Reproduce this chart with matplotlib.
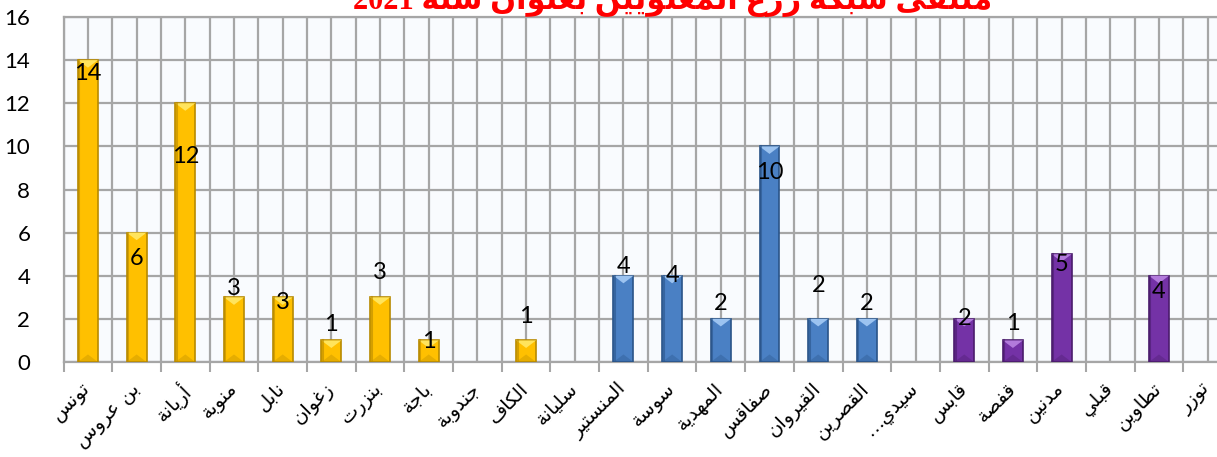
import re
import matplotlib.pyplot as plt
import matplotlib.transforms as mtransforms
from matplotlib.patches import Polygon
import numpy as np

# governorates and values
governorates = ["تونس", "بن عروس", "أريانة", "منوبة", "نابل", "زغوان", "بنزرت", "باجة",
                "جندوبة", "الكاف", "سليانة", "المنستير", "سوسة", "المهدية", "صفاقس",
                "القيروان", "القصرين", "سيدي…", "قابس", "قفصة", "مدنين", "قبلي", "تطاوين", "توزر"]
values = [14, 6, 12, 3, 3, 1, 3, 1, 0, 1, 0, 4, 4, 2, 10, 2, 2, 0, 2, 1, 5, 0, 4, 0]
region = ["north"] * 11 + ["centre"] * 7 + ["south"] * 6
title = "ملتقى شبكة زرع المعنويين بعنوان سنة 2021"

# label placement relative to bar top (data units)
label_dy = [-0.6, -1.2, -2.45, 0.43, -0.26, 0.72, 1.13, -0.07, 0, 1.09, 0, 0.41, 0.0,
            0.69, -1.2, 1.57, 0.69, 0, 0.04, 0.8, -0.5, 0, -0.75, 0]

colors = {"north": ("#FFC000", "#B88A00", "#FFE45C"),
          "centre": ("#4A80C4", "#2A5488", "#9CC3F0"),
          "south": ("#7432A6", "#4A1C6C", "#B27BDB")}

# --- minimal arabic shaping (matplotlib has no RTL support) ---
FORMS = {
    'ا': (0xFE8D, 0xFE8E, None, None), 'أ': (0xFE83, 0xFE84, None, None),
    'ب': (0xFE8F, 0xFE90, 0xFE91, 0xFE92), 'ة': (0xFE93, 0xFE94, None, None),
    'ت': (0xFE95, 0xFE96, 0xFE97, 0xFE98), 'ج': (0xFE9D, 0xFE9E, 0xFE9F, 0xFEA0),
    'د': (0xFEA9, 0xFEAA, None, None), 'ر': (0xFEAD, 0xFEAE, None, None),
    'ز': (0xFEAF, 0xFEB0, None, None), 'س': (0xFEB1, 0xFEB2, 0xFEB3, 0xFEB4),
    'ش': (0xFEB5, 0xFEB6, 0xFEB7, 0xFEB8), 'ص': (0xFEB9, 0xFEBA, 0xFEBB, 0xFEBC),
    'ط': (0xFEC1, 0xFEC2, 0xFEC3, 0xFEC4), 'ع': (0xFEC9, 0xFECA, 0xFECB, 0xFECC),
    'غ': (0xFECD, 0xFECE, 0xFECF, 0xFED0), 'ف': (0xFED1, 0xFED2, 0xFED3, 0xFED4),
    'ق': (0xFED5, 0xFED6, 0xFED7, 0xFED8), 'ك': (0xFED9, 0xFEDA, 0xFEDB, 0xFEDC),
    'ل': (0xFEDD, 0xFEDE, 0xFEDF, 0xFEE0), 'م': (0xFEE1, 0xFEE2, 0xFEE3, 0xFEE4),
    'ن': (0xFEE5, 0xFEE6, 0xFEE7, 0xFEE8), 'ه': (0xFEE9, 0xFEEA, 0xFEEB, 0xFEEC),
    'و': (0xFEED, 0xFEEE, None, None), 'ى': (0xFEEF, 0xFEF0, None, None),
    'ي': (0xFEF1, 0xFEF2, 0xFEF3, 0xFEF4),
}


def shape(s):
    out = []
    for i, ch in enumerate(s):
        if ch not in FORMS:
            out.append(ch)
            continue
        prev = s[i - 1] if i > 0 else ""
        nxt = s[i + 1] if i < len(s) - 1 else ""
        pj = prev in FORMS and FORMS[prev][2] is not None
        nj = FORMS[ch][2] is not None and nxt in FORMS
        iso, fin, ini, med = FORMS[ch]
        if pj and nj:
            c = med
        elif pj:
            c = fin
        elif nj:
            c = ini
        else:
            c = iso
        out.append(chr(c))
    vis = "".join(out)[::-1]
    return re.sub(r"[0-9]+", lambda m: m.group(0)[::-1], vis)


W, H = 1217, 457
fig = plt.figure(figsize=(W / 100, H / 100), dpi=100)
fig.patch.set_facecolor("white")
ax = fig.add_axes([63.6 / W, 1 - 362 / H, (1232 - 63.6) / W, (362 - 17) / H])
ax.set_facecolor("#F9FBFE")

x = np.arange(len(values))
bw = 0.41
face = [colors[r][0] for r in region]
edge = [colors[r][1] if v > 0 else "none" for r, v in zip(region, values)]
bars = ax.bar(x, values, width=bw, color=face, edgecolor=edge, linewidth=1.2, zorder=3)

# bevel highlight at the top of each bar
for b, r in zip(bars, region):
    h = b.get_height()
    if h <= 0:
        continue
    x0, x1 = b.get_x(), b.get_x() + b.get_width()
    d = 0.35
    tri = Polygon([(x0, h), (x1, h), ((x0 + x1) / 2, h - d)], closed=True,
                  facecolor=colors[r][2], edgecolor="none", zorder=4)
    ax.add_patch(tri)
    low = Polygon([(x0, 0), (x1, 0), ((x0 + x1) / 2, min(d, h / 2))], closed=True,
                  facecolor=colors[r][1], edgecolor="none", alpha=0.35, zorder=4)
    ax.add_patch(low)
    ax.plot([x0 + 0.03, x0 + 0.03], [0, h], color=colors[r][1], lw=1.5, alpha=0.6, zorder=4)

for xi, v, dy in zip(x, values, label_dy):
    if v > 0:
        ax.text(xi, v + dy, str(v), ha="center", va="center", fontsize=17,
                family="Lato", color="black", zorder=5)

ax.set_xlim(-0.5, len(values) - 0.5)
ax.set_ylim(0, 16)
ax.set_yticks(np.arange(0, 17, 2))
ax.tick_params(axis="y", length=0, pad=24, labelsize=16)
for t in ax.get_yticklabels():
    t.set_family("Lato")

# category labels, rotated, drawn as text so they can be nudged a little left
ax.set_xticks(x)
ax.set_xticklabels([])
ax.tick_params(axis="x", which="major", length=0)
lab_tr = ax.get_xaxis_transform() + mtransforms.ScaledTranslation(-0.07, -0.17, fig.dpi_scale_trans)
for xi, g in zip(x, governorates):
    ax.text(xi, 0, shape(g), rotation=45, ha="right", va="top", rotation_mode="anchor",
            fontsize=14, family="DejaVu Sans", transform=lab_tr, clip_on=False)
ax.set_xticks(np.arange(-0.5, len(values), 1), minor=True)
ax.tick_params(axis="x", which="minor", length=7, width=1.5, color="#A6A6A6", direction="out")

grid_c = "#A6A6A6"
ax.grid(axis="y", color=grid_c, linewidth=1.6, zorder=1)
ax.vlines(np.arange(-0.5, len(values), 0.5), 0, 16, color=grid_c, linewidth=1.6, zorder=1)
ax.set_axisbelow(True)
for s in ["left", "bottom", "top"]:
    ax.spines[s].set_color(grid_c)
    ax.spines[s].set_linewidth(1.6)
ax.spines["right"].set_visible(False)

fig.text(673 / W, 1 - 9 / H, shape(title), ha="center", va="baseline", fontsize=22,
         fontweight="bold", color="#FF0000", family=["Liberation Serif", "DejaVu Sans"])

fig.savefig("out.png", dpi=100)
